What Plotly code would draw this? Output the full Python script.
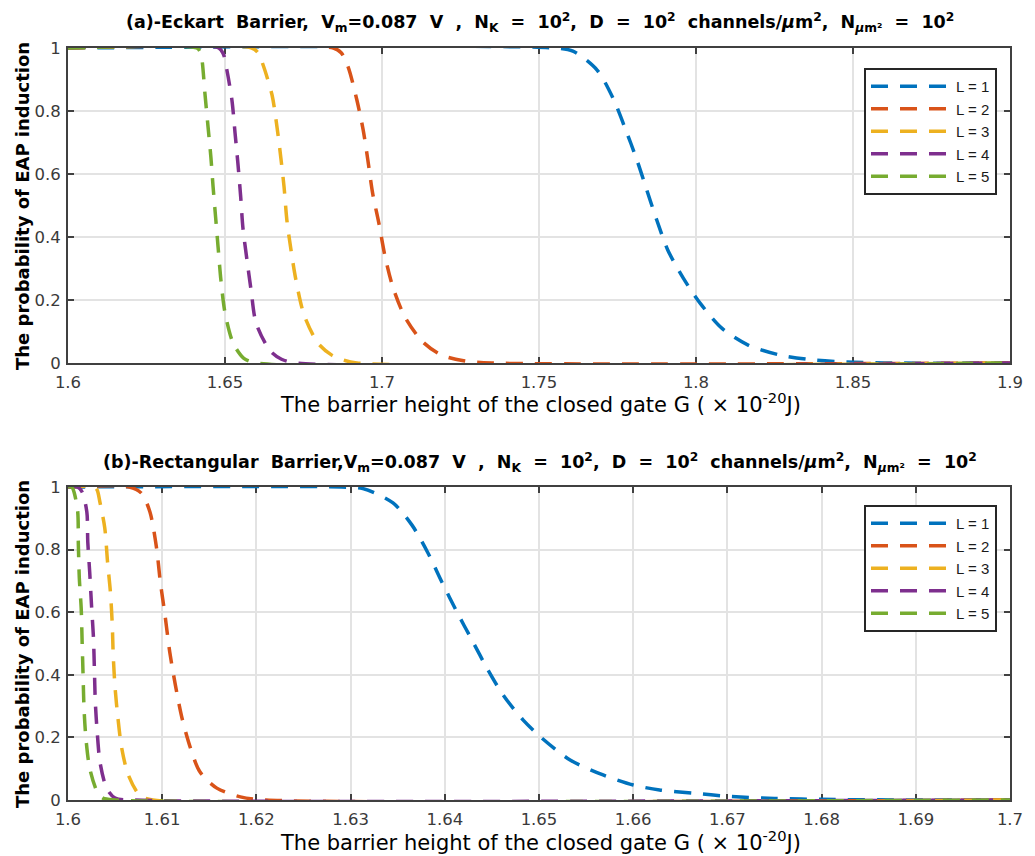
import plotly.graph_objects as go

# ---------------- data ----------------
series_names = ["L = 1", "L = 2", "L = 3", "L = 4", "L = 5"]
colors = ["#0072BD", "#D95319", "#EDB120", "#7E2F8E", "#77AC30"]

# panel (a) Eckart barrier
a_x1 = [1.600, 1.755, 1.7608, 1.7685, 1.7736, 1.7774, 1.7812, 1.7843, 1.7875, 1.791, 1.7959, 1.8013, 1.8083, 1.8166, 1.8268, 1.837, 1.848, 1.860, 1.900]
a_y1 = [1.0, 1.0, 0.99, 0.93, 0.84, 0.746, 0.644, 0.55, 0.454, 0.359, 0.27, 0.19, 0.11, 0.057, 0.025, 0.01, 0.003, 0.0, 0.0]
a_x2 = [1.600, 1.6845, 1.6870, 1.6892, 1.692, 1.694, 1.6955, 1.697, 1.699, 1.701, 1.7035, 1.7073, 1.713, 1.719, 1.726, 1.735, 1.900]
a_y2 = [1.0, 1.0, 0.985, 0.94, 0.835, 0.74, 0.644, 0.54, 0.444, 0.337, 0.24, 0.146, 0.067, 0.025, 0.007, 0.0, 0.0]
a_x3 = [1.600, 1.6585, 1.6605, 1.662, 1.665, 1.6666, 1.6678, 1.6688, 1.6697, 1.671, 1.6726, 1.6752, 1.6796, 1.6840, 1.6876, 1.692, 1.900]
a_y3 = [1.0, 1.0, 0.985, 0.95, 0.85, 0.746, 0.65, 0.56, 0.454, 0.36, 0.263, 0.152, 0.063, 0.025, 0.01, 0.0, 0.0]
a_x4 = [1.600, 1.6480, 1.6495, 1.6506, 1.6522, 1.6532, 1.6541, 1.655, 1.6557, 1.657, 1.6583, 1.6599, 1.6643, 1.668, 1.673, 1.900]
a_y4 = [1.0, 1.0, 0.98, 0.93, 0.835, 0.73, 0.635, 0.527, 0.43, 0.327, 0.232, 0.127, 0.04, 0.012, 0.0, 0.0]
a_x5 = [1.600, 1.6410, 1.6420, 1.6427, 1.6436, 1.6446, 1.6455, 1.6462, 1.647, 1.6478, 1.6487, 1.650, 1.6526, 1.656, 1.660, 1.900]
a_y5 = [1.0, 1.0, 0.99, 0.96, 0.857, 0.75, 0.654, 0.56, 0.464, 0.368, 0.263, 0.16, 0.063, 0.015, 0.0, 0.0]

# panel (b) rectangular barrier
b_x1 = [1.600, 1.629, 1.6313, 1.6345, 1.6365, 1.6382, 1.6397, 1.6413, 1.6429, 1.6445, 1.6462, 1.6483, 1.6503, 1.6533, 1.6568, 1.660, 1.6628, 1.6663, 1.670, 1.675, 1.680, 1.690, 1.700]
b_y1 = [1.0, 1.0, 0.995, 0.949, 0.879, 0.79, 0.696, 0.60, 0.51, 0.42, 0.335, 0.256, 0.198, 0.128, 0.08, 0.048, 0.032, 0.022, 0.012, 0.005, 0.002, 0.0, 0.0]
b_x2 = [1.600, 1.6065, 1.6078, 1.6087, 1.6094, 1.6098, 1.6103, 1.6108, 1.6114, 1.6121, 1.613, 1.614, 1.6158, 1.6183, 1.621, 1.700]
b_y2 = [1.0, 1.0, 0.98, 0.92, 0.805, 0.697, 0.59, 0.473, 0.367, 0.262, 0.166, 0.09, 0.038, 0.01, 0.0, 0.0]
b_x3 = [1.600, 1.6028, 1.6031, 1.6034, 1.6039, 1.6042, 1.6045, 1.6047, 1.6048, 1.605, 1.6053, 1.6057, 1.6064, 1.6076, 1.609, 1.700]
b_y3 = [1.0, 1.0, 0.99, 0.95, 0.87, 0.76, 0.665, 0.56, 0.463, 0.358, 0.262, 0.166, 0.08, 0.016, 0.0, 0.0]
b_x4 = [1.600, 1.6010, 1.6015, 1.602, 1.6021, 1.6023, 1.6025, 1.6027, 1.6028, 1.6029, 1.6031, 1.6034, 1.6041, 1.605, 1.607, 1.700]
b_y4 = [1.0, 1.0, 0.984, 0.92, 0.824, 0.73, 0.62, 0.52, 0.42, 0.313, 0.217, 0.12, 0.038, 0.006, 0.0, 0.0]
b_x5 = [1.600, 1.6004, 1.601, 1.6011, 1.6012, 1.6014, 1.6015, 1.6016, 1.6017, 1.6019, 1.6023, 1.6031, 1.6037, 1.605, 1.700]
b_y5 = [1.0, 1.0, 0.93, 0.815, 0.71, 0.613, 0.505, 0.40, 0.294, 0.198, 0.102, 0.026, 0.006, 0.0, 0.0]

a_xs = [a_x1, a_x2, a_x3, a_x4, a_x5]
a_ys = [a_y1, a_y2, a_y3, a_y4, a_y5]
b_xs = [b_x1, b_x2, b_x3, b_x4, b_x5]
b_ys = [b_y1, b_y2, b_y3, b_y4, b_y5]

a_xticks = [1.6, 1.65, 1.7, 1.75, 1.8, 1.85, 1.9]
a_xticktext = ["1.6", "1.65", "1.7", "1.75", "1.8", "1.85", "1.9"]
b_xticks = [1.6, 1.61, 1.62, 1.63, 1.64, 1.65, 1.66, 1.67, 1.68, 1.69, 1.7]
b_xticktext = ["1.6", "1.61", "1.62", "1.63", "1.64", "1.65", "1.66", "1.67", "1.68", "1.69", "1.7"]
yticks = [0, 0.2, 0.4, 0.6, 0.8, 1]
yticktext = ["0", "0.2", "0.4", "0.6", "0.8", "1"]

S = "\u00a0 "  # widened space
title_a = ("(a)-Eckart" + S + "Barrier," + S + "V<sub>m</sub>=0.087" + S + "V" + S + "," + S + "N<sub>K</sub>" + S + "=" + S
           + "10<sup>2</sup>," + S + "D" + S + "=" + S + "10<sup>2</sup>" + S + "channels/<i>μ</i>m<sup>2</sup>," + S
           + "N<sub><i>μ</i>m²</sub>" + S + "=" + S + "10<sup>2</sup>")
title_b = ("(b)-Rectangular" + S + "Barrier,V<sub>m</sub>=0.087" + S + "V" + S + "," + S + "N<sub>K</sub>" + S + "=" + S
           + "10<sup>2</sup>," + S + "D" + S + "=" + S + "10<sup>2</sup>" + S + "channels/<i>μ</i>m<sup>2</sup>," + S
           + "N<sub><i>μ</i>m²</sub>" + S + "=" + S + "10<sup>2</sup>")
xlabel = "The barrier height of the closed gate G ( × 10<sup>-20</sup>J)"
ylabel = "<b>The probability of EAP induction</b>"

# ---------------- figure ----------------
FONT = "DejaVu Sans, Verdana, sans-serif"
LFONT = "Liberation Sans, Arial, sans-serif"
AX = "#404040"
GRID = "#e3e3e3"
DASH = "17px,12px"

fig = go.Figure()
for i in range(5):
    fig.add_trace(go.Scatter(x=a_xs[i], y=a_ys[i], mode="lines", name=series_names[i],
                             line=dict(color=colors[i], width=3.5, dash=DASH, shape="spline", smoothing=0.8),
                             xaxis="x", yaxis="y", legend="legend"))
for i in range(5):
    fig.add_trace(go.Scatter(x=b_xs[i], y=b_ys[i], mode="lines", name=series_names[i],
                             line=dict(color=colors[i], width=3.5, dash=DASH, shape="spline", smoothing=0.8),
                             xaxis="x2", yaxis="y2", legend="legend2"))

W, H = 1035, 856
L, R, T, B = 68, 25, 48, 56
ph = H - T - B


def py(pix):
    return (H - B - pix) / ph


def px(pix):
    return (pix - L) / (W - L - R)


axis_common = dict(showline=True, linecolor=AX, linewidth=2, mirror="ticks",
                   ticks="inside", ticklen=6, tickwidth=2, tickcolor=AX,
                   showgrid=True, gridcolor=GRID, gridwidth=1.6, zeroline=False,
                   layer="below traces",
                   tickfont=dict(family=FONT, size=16.5, color="#3a3a3a"))

leg_common = dict(xanchor="right", yanchor="top", bgcolor="white",
                  bordercolor="#262626", borderwidth=2, font=dict(family=LFONT, size=15, color="#1a1a1a"),
                  itemwidth=80, tracegroupgap=0)

fig.update_layout(
    width=W, height=H,
    margin=dict(l=L, r=R, t=T, b=B),
    paper_bgcolor="white", plot_bgcolor="white",
    font=dict(family=FONT, color="#000000"),
    xaxis=dict(domain=[0, 1], anchor="y", range=[1.6, 1.9], tickvals=a_xticks, ticktext=a_xticktext,
               ticklabelstandoff=3, **axis_common),
    yaxis=dict(domain=[py(363), 1], anchor="x", range=[0, 1], tickvals=yticks, ticktext=yticktext,
               ticklabelstandoff=2, **axis_common),
    xaxis2=dict(domain=[0, 1], anchor="y2", range=[1.6, 1.7], tickvals=b_xticks, ticktext=b_xticktext,
                ticklabelstandoff=3, **axis_common),
    yaxis2=dict(domain=[0, py(487)], anchor="x2", range=[0, 1], tickvals=yticks, ticktext=yticktext,
                ticklabelstandoff=2, **axis_common),
    legend=dict(x=px(997), y=py(68), **leg_common),
    legend2=dict(x=px(997), y=py(505), **leg_common),
    showlegend=True,
)

ann = []
ann.append(dict(text="<b>" + title_a + "</b>", x=px(540), y=py(22), xref="paper", yref="paper",
                showarrow=False, xanchor="center", yanchor="middle", font=dict(family=FONT, size=17.5)))
ann.append(dict(text="<b>" + title_b + "</b>", x=px(540), y=py(463), xref="paper", yref="paper",
                showarrow=False, xanchor="center", yanchor="middle", font=dict(family=FONT, size=17.5)))
for yy in (403, 841):
    ann.append(dict(text=xlabel, x=px(540), y=py(yy), xref="paper", yref="paper", showarrow=False,
                    xanchor="center", yanchor="middle", font=dict(family=FONT, size=21)))
for yy in (206, 644):
    ann.append(dict(text=ylabel, x=px(22), y=py(yy), xref="paper", yref="paper", showarrow=False,
                    xanchor="center", yanchor="middle", textangle=-90, font=dict(family=FONT, size=18)))
fig.update_layout(annotations=ann)

fig.write_html("out.html")
